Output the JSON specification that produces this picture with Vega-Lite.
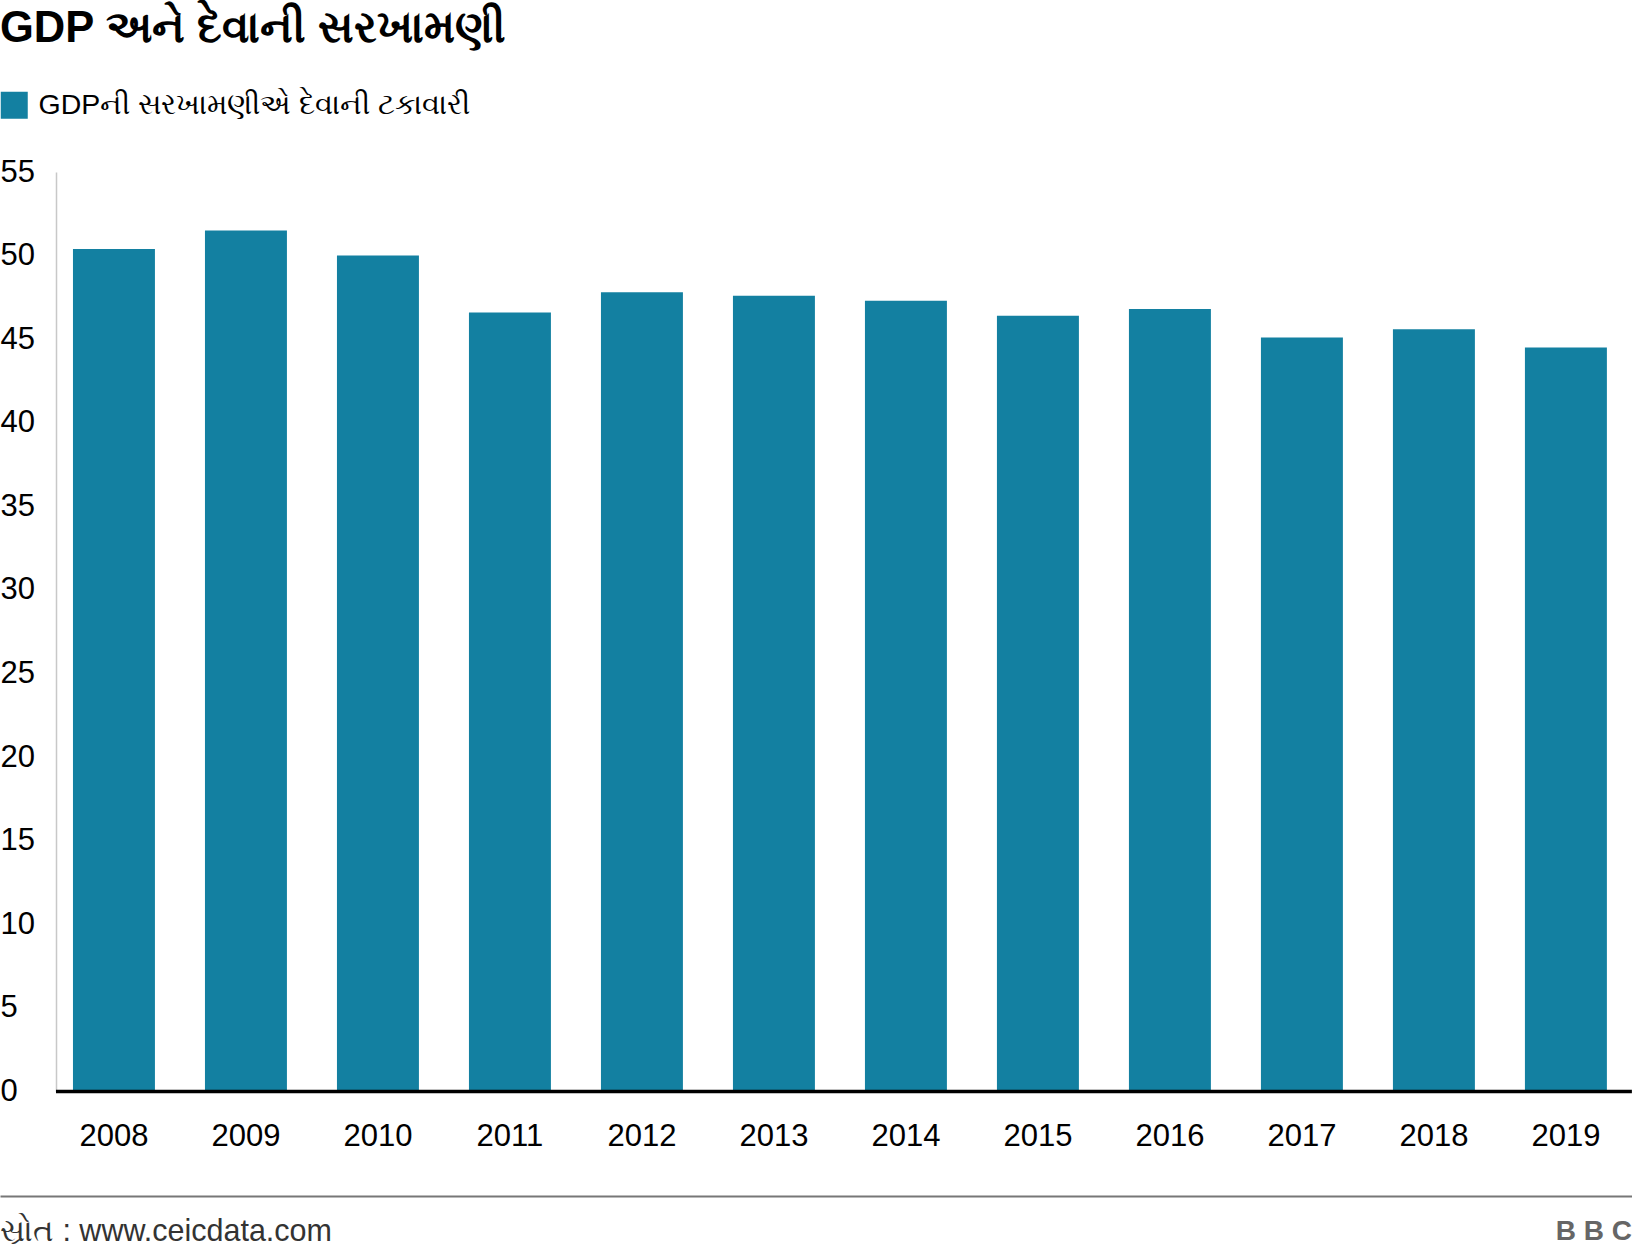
{
  "$schema": "https://vega.github.io/schema/vega-lite/v6.json",
  "width": 1632,
  "height": 919.5,
  "autosize": {"type": "none"},
  "padding": {"left": 0, "top": 172, "right": 0, "bottom": 168.5},
  "background": "white",
  "title": {
    "text": "GDP અને દેવાની સરખામણી",
    "anchor": "start",
    "frame": "group",
    "font": "Liberation Sans",
    "fontSize": 43.5,
    "fontWeight": "bold",
    "color": "#000000",
    "offset": 40
  },
  "data": {
    "values": [
      {"year": "2008", "value": 50.4, "series": "GDPની સરખામણીએ દેવાની ટકાવારી"},
      {"year": "2009", "value": 51.5, "series": "GDPની સરખામણીએ દેવાની ટકાવારી"},
      {"year": "2010", "value": 50.0, "series": "GDPની સરખામણીએ દેવાની ટકાવારી"},
      {"year": "2011", "value": 46.6, "series": "GDPની સરખામણીએ દેવાની ટકાવારી"},
      {"year": "2012", "value": 47.8, "series": "GDPની સરખામણીએ દેવાની ટકાવારી"},
      {"year": "2013", "value": 47.6, "series": "GDPની સરખામણીએ દેવાની ટકાવારી"},
      {"year": "2014", "value": 47.3, "series": "GDPની સરખામણીએ દેવાની ટકાવારી"},
      {"year": "2015", "value": 46.4, "series": "GDPની સરખામણીએ દેવાની ટકાવારી"},
      {"year": "2016", "value": 46.8, "series": "GDPની સરખામણીએ દેવાની ટકાવારી"},
      {"year": "2017", "value": 45.1, "series": "GDPની સરખામણીએ દેવાની ટકાવારી"},
      {"year": "2018", "value": 45.6, "series": "GDPની સરખામણીએ દેવાની ટકાવારી"},
      {"year": "2019", "value": 44.5, "series": "GDPની સરખામણીએ દેવાની ટકાવારી"}
    ]
  },
  "layer": [
    {
      "mark": {"type": "bar"},
      "encoding": {
        "x": {
          "field": "year",
          "type": "ordinal",
          "title": null,
          "scale": {"paddingInner": 0.379, "paddingOuter": 0.3715, "align": 0.744},
          "axis": {
            "orient": "bottom",
            "domain": false,
            "ticks": false,
            "grid": false,
            "labelAngle": 0,
            "labelPadding": 45,
            "labelBaseline": "middle",
            "labelFontSize": 31
          }
        },
        "y": {
          "field": "value",
          "type": "quantitative",
          "title": null,
          "scale": {"domain": [0, 55], "nice": false},
          "axis": {
            "offset": -56,
            "values": [0, 5, 10, 15, 20, 25, 30, 35, 40, 45, 50, 55],
            "domainColor": "#c8c8c8",
            "domainWidth": 1.5,
            "ticks": false,
            "tickSize": 0,
            "grid": false,
            "labelAlign": "left",
            "labelBaseline": "middle",
            "labelPadding": 56,
            "labelFontSize": 31
          }
        },
        "color": {
          "field": "series",
          "type": "nominal",
          "scale": {"range": ["#1380A1"]},
          "legend": {
            "orient": "top",
            "title": null,
            "direction": "horizontal",
            "symbolType": "square",
            "symbolSize": 729,
            "symbolStrokeWidth": 0,
            "symbolOpacity": 1,
            "labelFontSize": 28.5,
            "labelColor": "#000000",
            "labelLimit": 1000,
            "labelOffset": 10,
            "offset": 52,
            "padding": 0
          }
        }
      }
    },
    {
      "transform": [{"filter": "datum.year == '2008'"}],
      "mark": {"type": "rule", "color": "#000000", "strokeWidth": 3.5},
      "encoding": {
        "x": {
          "datum": "2008",
          "type": "ordinal",
          "bandPosition": -0.207,
          "axis": {
            "orient": "bottom",
            "offset": 104.5,
            "title": null,
            "domain": true,
            "domainColor": "#777777",
            "domainWidth": 2,
            "ticks": false,
            "grid": false,
            "labelAngle": 0,
            "labelOverlap": false,
            "labelBound": false,
            "labelFlush": false,
            "labelLimit": 1000,
            "labelExpr": "datum.value == '2008' ? 'સ્રોત : www.ceicdata.com' : datum.value == '2019' ? 'B B C' : ''",
            "labelBaseline": "middle",
            "labelPadding": 35,
            "labelFontSize": {"condition": {"test": "datum.value == '2008'", "value": 30.5}, "value": 28},
            "labelAlign": {"condition": {"test": "datum.value == '2008'", "value": "left"}, "value": "right"},
            "labelOffset": {"condition": {"test": "datum.value == '2008'", "value": -114}, "value": 66},
            "labelColor": {"condition": {"test": "datum.value == '2008'", "value": "#333333"}, "value": "#666666"},
            "labelFontWeight": {"condition": {"test": "datum.value == '2019'", "value": "bold"}, "value": "normal"}
          }
        },
        "x2": {"datum": "2019", "bandPosition": 1.305},
        "y": {"datum": 0, "type": "quantitative", "title": null}
      }
    }
  ],
  "resolve": {"axis": {"x": "independent"}},
  "config": {
    "view": {"stroke": null},
    "font": "Liberation Sans",
    "axis": {"labelFont": "Liberation Sans", "labelColor": "#000000"},
    "legend": {"labelFont": "Liberation Sans"}
  }
}
